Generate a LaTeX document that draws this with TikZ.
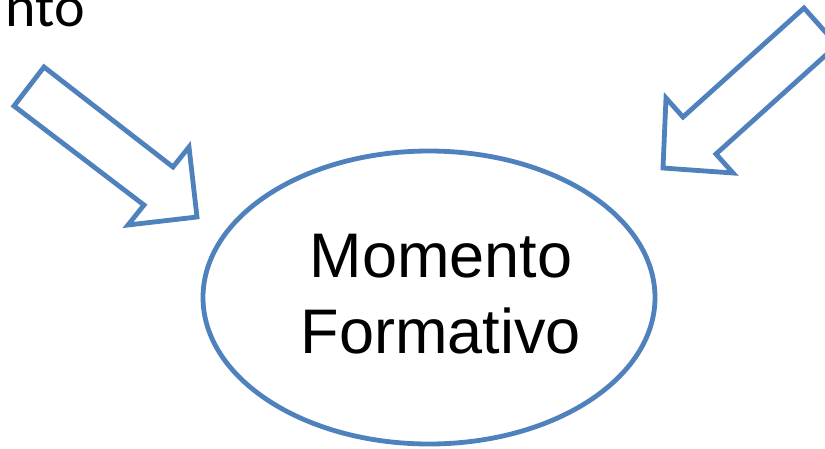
\documentclass[tikz,border=0pt]{standalone}
\usepackage{fontspec}
\setmainfont{Liberation Sans}
\newfontfamily\calib{Carlito}
\usetikzlibrary{shapes.geometric}
\definecolor{accblue}{HTML}{4F81BD}
\tikzset{
  blockarrow/.style={draw=accblue, line width=4.8pt, fill=white, line join=miter},
  bigtext/.style={font=\fontsize{63}{76}\selectfont, inner sep=0pt, anchor=base}
}
\begin{document}
\begin{tikzpicture}[x=1pt,y=-1pt]
\useasboundingbox (0,0) rectangle (825,448);
\clip (0,0) rectangle (825,448);
% partial text at top-left
\node[font=\calib\fontsize{58}{60}\selectfont, inner sep=0pt, anchor=base east] (nto) at (85,26) {nto};
% left block arrow
\draw[blockarrow] (44,67) -- (173,167) -- (189,147) -- (197,217) -- (128,225) -- (144,205) -- (14,106) -- cycle;
% right block arrow
\draw[blockarrow] (804,8) -- (683,117) -- (666,98) -- (663,168) -- (733,173) -- (716,154) -- (837,45) -- cycle;
% ellipse
\node[ellipse, draw=accblue, line width=4.8pt, minimum width=452pt, minimum height=293pt, inner sep=0pt] (mf) at (429,297.5) {};
\node[bigtext] (l1) at (441,277) {Momento};
\node[bigtext] (l2) at (441,353) {Formativo};
\end{tikzpicture}
\end{document}
